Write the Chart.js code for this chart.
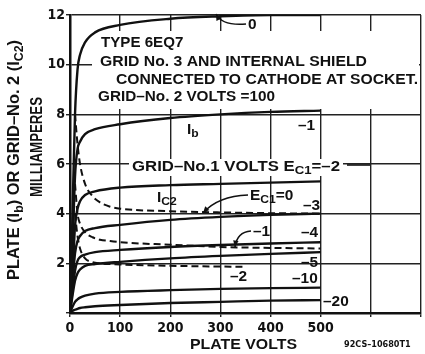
<!DOCTYPE html>
<html>
<head>
<meta charset="utf-8">
<title>6EQ7 plate characteristics</title>
<script src="https://cdn.jsdelivr.net/npm/chart.js@4.4.0/dist/chart.umd.min.js"></script>
<style>
  body { margin: 0; background: #fff; }
  canvas { display: block; }
</style>
</head>
<body>
<canvas id="curves" width="425" height="354"></canvas>
<script>
// plate voltage steps for the plate current (Ib) curves
const plateVolts = [0, 5, 10, 15, 20, 30, 50, 100, 200, 300, 400, 500];

// plate current, mA, one list per grid-No.1 voltage
const ibGrid0   = [0, 4.0, 8.0, 9.8, 10.4, 10.9, 11.3, 11.6, 11.85, 11.95, 12.0, 12.0];
const ibGrid1   = [0, 2.5, 5.5, 6.6, 6.9, 7.2, 7.4, 7.6, 7.85, 8.0, 8.1, 8.15];
const ibGrid2   = [0, 1.5, 3.5, 4.2, 4.5, 4.75, 4.9, 5.05, 5.15, 5.2, 5.25, 5.3];
const ibGrid3   = [0, 1.2, 2.4, 2.9, 3.1, 3.3, 3.42, 3.55, 3.75, 3.87, 3.95, 4.0];
const ibGrid4   = [0, 0.9, 1.7, 2.1, 2.25, 2.35, 2.45, 2.54, 2.66, 2.74, 2.8, 2.85];
const ibGrid5   = [0, 0.7, 1.3, 1.6, 1.75, 1.9, 1.97, 2.06, 2.2, 2.3, 2.38, 2.45];
const ibGrid10  = [0, 0.25, 0.45, 0.55, 0.62, 0.7, 0.78, 0.85, 0.92, 0.97, 1.0, 1.02];
const ibGrid20  = [0, 0.08, 0.13, 0.17, 0.2, 0.23, 0.27, 0.32, 0.4, 0.45, 0.5, 0.52];

// screen grid current (Ic2) curves, dashed
const ic2Volts  = [10, 15, 20, 30, 45, 60, 80, 100, 200, 300, 400, 500];
const ic2Grid0  = [8.0, 6.8, 6.0, 5.2, 4.7, 4.45, 4.28, 4.2, 4.1, 4.05, 4.02, 4.0];
const ic2Grid1  = [5.2, 4.0, 3.6, 3.25, 3.05, 2.95, 2.9, 2.85, 2.75, 2.66, 2.62, 2.6];
const ic2VoltsShort = [10, 15, 20, 30, 45, 60, 80, 100, 200, 300, 350];
const ic2Grid2  = [4.0, 3.1, 2.6, 2.2, 2.05, 2.0, 1.97, 1.95, 1.9, 1.87, 1.86];

const xTicks = [0, 100, 200, 300, 400, 500];
const yTicks = [2, 4, 6, 8, 10, 12];

const FONT = "'DejaVu Sans Condensed', 'DejaVu Sans', sans-serif";
const TEXT_FONT = "'Liberation Sans', Arial, sans-serif";
const INK = '#111';

function pairs(xs, ys) {
  return ys.map((y, i) => ({ x: xs[i], y: y }));
}

function curve(xs, ys, dashed) {
  return {
    data: pairs(xs, ys),
    borderColor: INK,
    borderWidth: dashed ? 2 : 2.4,
    borderDash: dashed ? [7, 4] : [],
    pointRadius: 0,
    showLine: true,
    fill: false,
    cubicInterpolationMode: 'monotone'
  };
}

function richWidth(ctx, parts, size) {
  let w = 0;
  parts.forEach(([t, sub]) => {
    ctx.font = `bold ${sub ? Math.round(size * 0.75) : size}px ${TEXT_FONT}`;
    w += ctx.measureText(t).width;
  });
  return w;
}

// lettering with optional subscripts: [['I'], ['C2', true]]
// width: total width to stretch to; a number below 5 is taken as a stretch factor
function letter(ctx, parts, x, y, width, size) {
  size = size || 14;
  const natural = richWidth(ctx, parts, size);
  const sx = width < 5 ? width : width / natural;
  ctx.save();
  ctx.translate(x, y);
  ctx.scale(sx, 1);
  let cx = 0;
  parts.forEach(([t, sub]) => {
    const s = sub ? Math.round(size * 0.75) : size;
    ctx.font = `bold ${s}px ${TEXT_FONT}`;
    ctx.fillText(t, cx, sub ? size * 0.3 : 0);
    cx += ctx.measureText(t).width;
  });
  ctx.restore();
}

function arrow(ctx, x0, y0, cx, cy, x1, y1) {
  ctx.beginPath();
  ctx.moveTo(x0, y0);
  ctx.quadraticCurveTo(cx, cy, x1, y1);
  ctx.stroke();
  const a = Math.atan2(y1 - cy, x1 - cx);
  ctx.beginPath();
  ctx.moveTo(x1, y1);
  ctx.lineTo(x1 - 7 * Math.cos(a - 0.4), y1 - 7 * Math.sin(a - 0.4));
  ctx.lineTo(x1 - 7 * Math.cos(a + 0.4), y1 - 7 * Math.sin(a + 0.4));
  ctx.closePath();
  ctx.fill();
}

const notes = {
  id: 'notes',
  beforeDatasetsDraw(chart) {
    const ctx = chart.ctx;
    ctx.save();
    // blank panels behind the caption and the grid-No.1 label
    ctx.fillStyle = '#fff';
    ctx.fillRect(92, 31, 327, 78);
    ctx.fillRect(129, 159, 214, 17);

    ctx.fillStyle = INK;
    ctx.strokeStyle = INK;
    ctx.lineWidth = 1.6;
    ctx.textBaseline = 'middle';
    ctx.textAlign = 'left';
    const k = 1.1;
    letter(ctx, [['TYPE 6EQ7']], 101, 43, 1.08);
    letter(ctx, [['GRID No. 3 AND INTERNAL SHIELD']], 100, 62, 267);
    letter(ctx, [['CONNECTED TO CATHODE AT SOCKET.']], 116, 80, 302);
    letter(ctx, [['GRID\u2013No. 2 VOLTS =100']], 98, 97, 177);

    letter(ctx, [['I'], ['b', true]], 187, 130, k);
    letter(ctx, [['\u20131']], 298, 126, k);
    letter(ctx, [['GRID\u2013No.1 VOLTS E'], ['C1', true], ['=\u20132']], 132, 167, 208);
    ctx.beginPath();
    ctx.moveTo(347, 165);
    ctx.lineTo(370, 165);
    ctx.stroke();

    letter(ctx, [['I'], ['C2', true]], 157, 198, k);
    letter(ctx, [['E'], ['C1', true], ['=0']], 250, 196, k);
    letter(ctx, [['\u20133']], 303, 206, k);
    letter(ctx, [['\u20131']], 253, 232, k);
    letter(ctx, [['\u20134']], 301, 233, k);
    letter(ctx, [['\u20135']], 301, 263, k);
    letter(ctx, [['\u20132']], 230, 277, k);
    letter(ctx, [['\u201310']], 292, 279, k);
    letter(ctx, [['\u201320']], 323, 302, k);
    letter(ctx, [['0']], 248, 25, k);

    arrow(ctx, 246, 24, 222, 26, 216, 14);
    arrow(ctx, 248, 195, 218, 196, 203, 213);
    arrow(ctx, 251, 231, 237, 232, 235, 247);

    // axis titles
    letter(ctx, [['PLATE VOLTS']], 190, 345, 107);
    ctx.font = `bold 9px ${FONT}`;
    ctx.fillText('92CS\u201310680T1', 344, 345);

    ctx.save();
    ctx.translate(15, 280);
    ctx.rotate(-Math.PI / 2);
    letter(ctx, [['PLATE (I'], ['b', true], [') OR GRID\u2013No. 2 (I'], ['C2', true], [')']], 0, 0, 240, 16);
    ctx.restore();

    ctx.save();
    ctx.translate(38, 197);
    ctx.rotate(-Math.PI / 2);
    letter(ctx, [['MILLIAMPERES']], 0, 0, 100, 16);
    ctx.restore();

    ctx.restore();
  }
};

const ctx = document.getElementById('curves').getContext('2d');
new Chart(ctx, {
  type: 'scatter',
  data: {
    datasets: [
      curve(plateVolts, ibGrid0),
      curve(plateVolts, ibGrid1),
      curve(plateVolts, ibGrid2),
      curve(plateVolts, ibGrid3),
      curve(plateVolts, ibGrid4),
      curve(plateVolts, ibGrid5),
      curve(plateVolts, ibGrid10),
      curve(plateVolts, ibGrid20),
      curve(ic2Volts, ic2Grid0, true),
      curve(ic2Volts, ic2Grid1, true),
      curve(ic2VoltsShort, ic2Grid2, true)
    ]
  },
  options: {
    responsive: false,
    animation: false,
    layout: { padding: { top: 15, right: 4, left: 0, bottom: 0 } },
    plugins: { legend: { display: false }, tooltip: { enabled: false } },
    scales: {
      x: {
        type: 'linear',
        min: 0,
        max: 700,
        afterFit: s => { s.height = 41; },
        afterBuildTicks: s => { s.ticks = [0, 100, 200, 300, 400, 500, 600, 700].map(v => ({ value: v })); },
        ticks: {
          color: INK,
          padding: 3,
          maxRotation: 0,
          font: { family: FONT, size: 14, weight: 'bold' },
          callback: v => xTicks.includes(v) ? String(v) : ''
        },
        grid: { color: '#222', lineWidth: 1.4, tickLength: 4 },
        border: { color: INK, width: 2.5 }
      },
      y: {
        type: 'linear',
        min: 0,
        max: 12,
        afterFit: s => { s.width = 70; },
        afterBuildTicks: s => { s.ticks = [0, 2, 4, 6, 8, 10, 12].map(v => ({ value: v })); },
        ticks: {
          color: INK,
          padding: 1,
          font: { family: FONT, size: 14, weight: 'bold' },
          callback: v => yTicks.includes(v) ? String(v) : ''
        },
        grid: { color: '#222', lineWidth: 1.4, tickLength: 4 },
        border: { color: INK, width: 2.5 }
      }
    }
  },
  plugins: [notes]
});
</script>
</body>
</html>
